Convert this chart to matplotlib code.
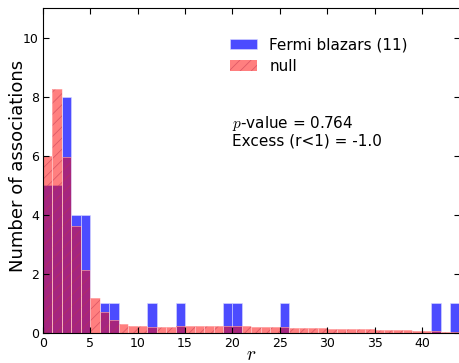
import numpy as np
import matplotlib
matplotlib.use("Agg")
import matplotlib.pyplot as plt

# bin edges (width 1 in r)
bin_edges = np.arange(0, 45, 1)

# observed counts per bin: Fermi blazars
fermi_counts = [5, 5, 8, 4, 4, 0, 1, 1, 0, 0, 0, 1, 0, 0, 1, 0, 0, 0, 0, 1, 1, 0,
                0, 0, 0, 1, 0, 0, 0, 0, 0, 0, 0, 0, 0, 0, 0, 0, 0, 0, 0, 1, 0, 1]

# expected counts per bin: null distribution
null_counts = [6.0, 8.25, 5.95, 3.63, 2.12, 1.2, 0.72, 0.45, 0.32, 0.25, 0.23, 0.19,
               0.19, 0.22, 0.23, 0.23, 0.23, 0.23, 0.23, 0.23, 0.23, 0.24, 0.21, 0.21,
               0.2, 0.2, 0.18, 0.18, 0.17, 0.16, 0.15, 0.14, 0.14, 0.13, 0.12, 0.11,
               0.1, 0.1, 0.09, 0.08, 0.07, 0.06, 0.05, 0.04]

fermi_label = "Fermi blazars (11)"
null_label = "null"
p_value = 0.764
excess = -1.0

plt.rcParams['hatch.linewidth'] = 0.6
plt.rcParams['mathtext.fontset'] = 'cm'

fig = plt.figure(figsize=(4.6, 3.63), dpi=100)
ax = fig.add_axes([0.0935, 0.0826, 0.906, 0.895])

left = bin_edges[:-1]
width = np.diff(bin_edges)

ax.bar(left, fermi_counts, width=width, align='edge', color='blue', alpha=0.7,
       edgecolor=(0.85, 0.85, 1.0), linewidth=0.6, label=fermi_label)
# hatched fill (hatch colour follows the edge colour), then light outlines
ax.bar(left, null_counts, width=width, align='edge', color='red', alpha=0.5,
       edgecolor=(0.75, 0.2, 0.3), linewidth=0, hatch='///', label=null_label)
ax.bar(left, null_counts, width=width, align='edge', fill=False,
       edgecolor=(1.0, 0.8, 0.8), alpha=0.6, linewidth=0.6)

ax.set_xlim(0, 44)
ax.set_ylim(0, 11)
ax.set_xticks(np.arange(0, 45, 5))
ax.set_yticks([0, 2, 4, 6, 8, 10])
ax.tick_params(direction='in', top=True, right=True, labelsize=9, length=4.5, pad=3)

ax.set_xlabel("$r$", fontsize=14)
ax.xaxis.set_label_coords(0.5, -0.036)
ax.set_ylabel("Number of associations", fontsize=13)
ax.yaxis.set_label_coords(-0.038, 0.514)

ax.legend(loc='upper left', bbox_to_anchor=(0.415, 0.952), frameon=False,
          fontsize=11, handlelength=1.8, labelspacing=0.4)

ax.text(20, 7.43, "$p$-value = %.3f\nExcess (r<1) = %.1f" % (p_value, excess),
        fontsize=11, va='top', ha='left', linespacing=1.05)

fig.savefig("out.png", dpi=100)
